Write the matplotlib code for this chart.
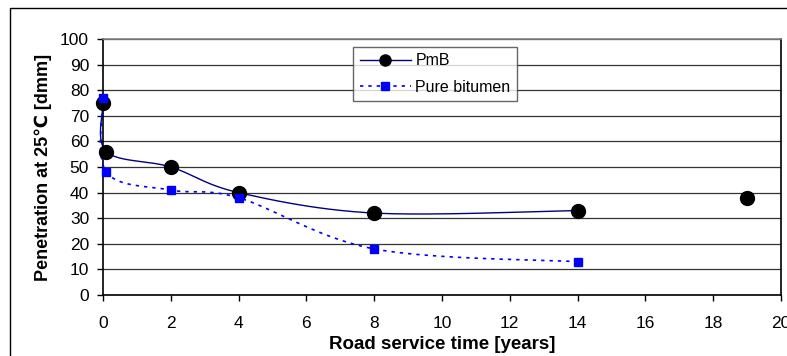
import numpy as np
import matplotlib.pyplot as plt
from matplotlib.patches import Rectangle

# service time [years] and penetration at 25 C [dmm]
pmb_years = [0, 0.1, 2, 4, 8, 14]
pmb_pen = [75, 56, 50, 40, 32, 33]
pmb_extra_years = [19]
pmb_extra_pen = [38]

bit_years = [0, 0.1, 2, 4, 8, 14]
bit_pen = [77, 48, 41, 38, 18, 13]


def smooth(xs, ys, n=40):
    # Catmull-Rom style bezier through the points (spreadsheet "smoothed line")
    p = np.column_stack([xs, ys]).astype(float)
    p = np.vstack([p[0], p, p[-1]])
    out = []
    t = np.linspace(0, 1, n)[:, None]
    for i in range(1, len(p) - 2):
        a, b = p[i], p[i + 1]
        c1 = a + (p[i + 1] - p[i - 1]) / 6
        c2 = b - (p[i + 2] - p[i]) / 6
        seg = ((1 - t) ** 3) * a + 3 * ((1 - t) ** 2) * t * c1 + 3 * (1 - t) * t ** 2 * c2 + t ** 3 * b
        out.append(seg)
    seg = np.vstack(out)
    return seg[:, 0], seg[:, 1]


plt.rcParams['font.family'] = ['Liberation Sans', 'DejaVu Sans']

fig = plt.figure(figsize=(7.87, 3.56), dpi=100)
ax = fig.add_axes([103 / 787, 1 - 295 / 356, 678 / 787, 256 / 356])

fig.patches.append(Rectangle((10 / 787, -0.1), 1.2, (356 - 8) / 356 + 0.1,
                             transform=fig.transFigure, fill=False,
                             edgecolor='black', linewidth=1.0))

sx, sy = smooth(pmb_years, pmb_pen)
ax.plot(sx, sy, color='#000080', linewidth=1.0, zorder=3, clip_on=False)
ax.plot(pmb_years + pmb_extra_years, pmb_pen + pmb_extra_pen, 'o', color='black',
        markersize=10, zorder=4, clip_on=False)

bx, by = smooth(bit_years, bit_pen)
ax.plot(bx, by, color='#0000FF', linewidth=1.2, linestyle=(0, (2, 3)), zorder=3,
        clip_on=False)
ax.plot(bit_years, bit_pen, 's', color='#0000FF', markersize=6, zorder=5,
        clip_on=False)

# legend proxies
h1, = ax.plot([], [], color='#000080', linewidth=1.0, marker='o',
              markerfacecolor='black', markeredgecolor='black', markersize=8)
h2, = ax.plot([], [], color='#0000FF', linewidth=1.2, linestyle=(0, (2, 3)),
              marker='s', markersize=6)
leg = ax.legend([h1, h2], ['PmB', 'Pure bitumen'], loc='upper left',
                bbox_to_anchor=(0.369, 0.969), fontsize=11.5, handlelength=3.2,
                frameon=True, fancybox=False, borderpad=0.4, labelspacing=0.7,
                handletextpad=0.3, borderaxespad=0)
leg.get_frame().set_edgecolor('#404040')
leg.get_frame().set_linewidth(1.0)

ax.set_xlim(0, 20)
ax.set_ylim(0, 100)
ax.set_xticks(range(0, 21, 2))
ax.set_yticks(range(0, 101, 10))
ax.tick_params(labelsize=12.5, direction='out', length=4, width=1)
ax.tick_params(axis='x', pad=11)
ax.tick_params(axis='y', pad=6)
ax.yaxis.grid(True, color='#333333', linewidth=0.9)
ax.set_axisbelow(True)
for s in ['left', 'bottom', 'right']:
    ax.spines[s].set_linewidth(1.2)
    ax.spines[s].set_color('black')
ax.spines['top'].set_color('#808080')
ax.spines['top'].set_linewidth(1.2)

ax.set_xlabel('Road service time [years]', fontsize=13.5, fontweight='bold', labelpad=4)
ax.set_ylabel('Penetration at 25℃ [dmm]', fontsize=13, fontweight='bold', labelpad=6)

fig.savefig('out.png', dpi=100)
